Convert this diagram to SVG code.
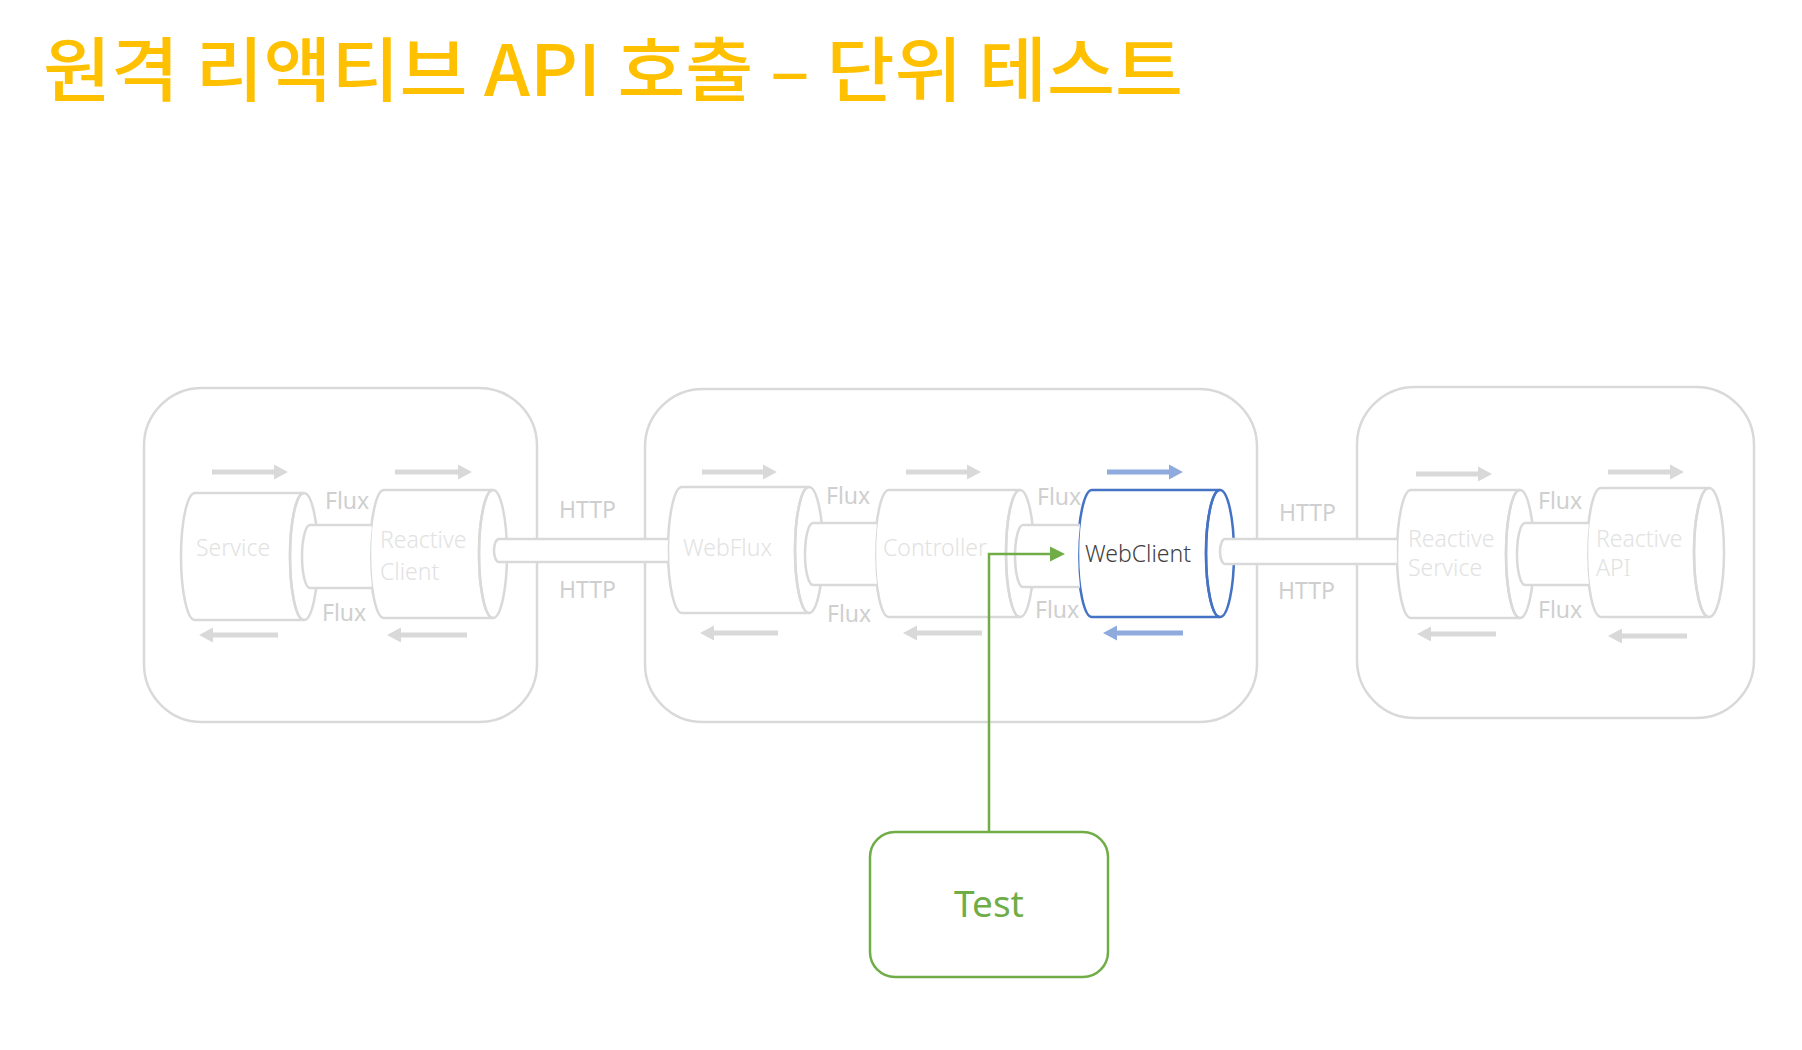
<svg xmlns="http://www.w3.org/2000/svg" width="1802" height="1050" viewBox="0 0 1802 1050">
<style>
  .title{font-family:"Noto Sans CJK KR","Noto Sans",sans-serif;font-weight:500;font-size:70px;fill:#FFC000}
  .box{fill:none;stroke:#D9D9D9;stroke-width:2.5}
  .cylb{fill:#FFFFFF;stroke:#D9D9D9;stroke-width:2.5}
  .cyle{fill:none;stroke:#D9D9D9;stroke-width:2.5}
  .cylb.hl{stroke:#4472C4}
  .cyle.hl{stroke:#4472C4}
  .ntext{font-family:"Noto Sans","Open Sans",sans-serif;font-weight:300;font-size:23px;fill:#E2E2E2}
  .ntext.hl{fill:#404040}
  .lbl{font-family:"Noto Sans","Open Sans",sans-serif;font-size:23px;fill:#CFCFCF}
  .arr{fill:#D9D9D9}
  .arr.hl{fill:#8FAADC}
  .tubef{fill:#FFFFFF;stroke:none}
  .tubes{fill:none;stroke:#D9D9D9;stroke-width:2.5}
  .test{fill:#FFFFFF;stroke:#70AD47;stroke-width:2.5}
  .testtext{font-family:"Noto Sans","Open Sans",sans-serif;font-size:37px;fill:#70AD47;text-anchor:middle}
  .green{fill:none;stroke:#70AD47;stroke-width:2.5}
</style>
<rect x="0" y="0" width="1802" height="1050" fill="#FFFFFF"/>
<text class="title" x="43" y="96" textLength="1140" lengthAdjust="spacingAndGlyphs">원격 리액티브 API 호출 – 단위 테스트</text>

<g id="containers">
  <rect id="container-client" class="box" x="144" y="388" width="393" height="334" rx="58"/>
  <rect id="container-middle" class="box" x="645" y="389" width="612" height="333" rx="58"/>
  <rect id="container-remote" class="box" x="1357" y="387" width="397" height="331" rx="58"/>
</g>

<g id="node-service">
  <path class="cylb" d="M195,493 L304,493 A14 63.5 0 0 0 304,620 L195,620 A14 63.5 0 0 1 195,493 Z"/>
  <ellipse class="cyle" cx="304" cy="556.5" rx="14" ry="63.5"/>
  <text class="ntext" x="196" y="556">Service</text>
  <path class="arr" d="M212,469.5 L274,469.5 L274,464.5 L288,472 L274,479.5 L274,474.5 L212,474.5 Z"/>
  <path class="arr" d="M278,632.5 L213,632.5 L213,627.5 L199,635 L213,642.5 L213,637.5 L278,637.5 Z"/>
</g>

<g id="node-reactive-client">
  <path class="cylb" d="M384,490 L493,490 A14 64 0 0 0 493,618 L384,618 A14 64 0 0 1 384,490 Z"/>
  <ellipse class="cyle" cx="493" cy="554" rx="14" ry="64"/>
  <text class="ntext" x="380" y="548">Reactive</text>
  <text class="ntext" x="380" y="580">Client</text>
  <path class="arr" d="M395,469.5 L458,469.5 L458,464.5 L472,472 L458,479.5 L458,474.5 L395,474.5 Z"/>
  <path class="arr" d="M467,632.5 L401,632.5 L401,627.5 L387,635 L401,642.5 L401,637.5 L467,637.5 Z"/>
</g>

<g id="node-webflux">
  <path class="cylb" d="M682,487 L809,487 A14 63 0 0 0 809,613 L682,613 A14 63 0 0 1 682,487 Z"/>
  <ellipse class="cyle" cx="809" cy="550" rx="14" ry="63"/>
  <text class="ntext" x="683" y="556">WebFlux</text>
  <path class="arr" d="M702,469.5 L763,469.5 L763,464.5 L777,472 L763,479.5 L763,474.5 L702,474.5 Z"/>
  <path class="arr" d="M778,630.5 L714,630.5 L714,625.5 L700,633 L714,640.5 L714,635.5 L778,635.5 Z"/>
</g>

<g id="node-controller">
  <path class="cylb" d="M889,490 L1020,490 A14 63.5 0 0 0 1020,617 L889,617 A14 63.5 0 0 1 889,490 Z"/>
  <ellipse class="cyle" cx="1020" cy="553.5" rx="14" ry="63.5"/>
  <text class="ntext" x="883" y="556">Controller</text>
  <path class="arr" d="M906,469.5 L967,469.5 L967,464.5 L981,472 L967,479.5 L967,474.5 L906,474.5 Z"/>
  <path class="arr" d="M982,630.5 L917,630.5 L917,625.5 L903,633 L917,640.5 L917,635.5 L982,635.5 Z"/>
</g>

<g id="node-webclient">
  <path class="cylb hl" d="M1092,490 L1220,490 A14 63.5 0 0 0 1220,617 L1092,617 A14 63.5 0 0 1 1092,490 Z"/>
  <ellipse class="cyle hl" cx="1220" cy="553.5" rx="14" ry="63.5"/>
  <text class="ntext hl" x="1085" y="562">WebClient</text>
  <path class="arr hl" d="M1107,469.5 L1169,469.5 L1169,464.5 L1183,472 L1169,479.5 L1169,474.5 L1107,474.5 Z"/>
  <path class="arr hl" d="M1183,630.5 L1117,630.5 L1117,625.5 L1103,633 L1117,640.5 L1117,635.5 L1183,635.5 Z"/>
</g>

<g id="node-reactive-service">
  <path class="cylb" d="M1411,490 L1520,490 A14 64 0 0 0 1520,618 L1411,618 A14 64 0 0 1 1411,490 Z"/>
  <ellipse class="cyle" cx="1520" cy="554" rx="14" ry="64"/>
  <text class="ntext" x="1408" y="547">Reactive</text>
  <text class="ntext" x="1408" y="576">Service</text>
  <path class="arr" d="M1416,471.5 L1478,471.5 L1478,466.5 L1492,474 L1478,481.5 L1478,476.5 L1416,476.5 Z"/>
  <path class="arr" d="M1496,631.5 L1431,631.5 L1431,626.5 L1417,634 L1431,641.5 L1431,636.5 L1496,636.5 Z"/>
</g>

<g id="node-reactive-api">
  <path class="cylb" d="M1601,488 L1709,488 A15 64.5 0 0 0 1709,617 L1601,617 A14 64.5 0 0 1 1601,488 Z"/>
  <ellipse class="cyle" cx="1709" cy="552.5" rx="15" ry="64.5"/>
  <text class="ntext" x="1596" y="547">Reactive</text>
  <text class="ntext" x="1596" y="576">API</text>
  <path class="arr" d="M1608,469.5 L1670,469.5 L1670,464.5 L1684,472 L1670,479.5 L1670,474.5 L1608,474.5 Z"/>
  <path class="arr" d="M1687,633.5 L1622,633.5 L1622,628.5 L1608,636 L1622,643.5 L1622,638.5 L1687,638.5 Z"/>
</g>

<g id="node-test">
  <rect class="test" x="870" y="832" width="238" height="145" rx="25"/>
  <text class="testtext" x="989" y="917">Test</text>
</g>

<g id="connectors">
  <!-- Service -> Reactive Client (Flux) -->
  <path class="tubef" d="M310,525 L372,525 A14 64 0 0 0 372,588 L310,588 A8 31.5 0 0 1 310,525 Z"/>
  <path class="tubes" d="M372,525 L310,525 A8 31.5 0 0 0 310,588 L372,588"/>
  <!-- Reactive Client -> WebFlux (HTTP) -->
  <path class="tubef" d="M499,539 L668,539 A14 63 0 0 0 668,562 L499,562 A5 11.5 0 0 1 499,539 Z"/>
  <path class="tubes" d="M668,539 L499,539 A5 11.5 0 0 0 499,562 L668,562"/>
  <!-- WebFlux -> Controller (Flux) -->
  <path class="tubef" d="M813,523 L877,523 A14 64 0 0 0 877,585 L813,585 A8 31 0 0 1 813,523 Z"/>
  <path class="tubes" d="M877,523 L813,523 A8 31 0 0 0 813,585 L877,585"/>
  <!-- Controller -> WebClient (Flux) -->
  <path class="tubef" d="M1023,525 L1080,525 A14 64 0 0 0 1080,587 L1023,587 A8 31 0 0 1 1023,525 Z"/>
  <path class="tubes" d="M1080,525 L1023,525 A8 31 0 0 0 1023,587 L1080,587"/>
  <!-- WebClient -> Reactive Service (HTTP) -->
  <path class="tubef" d="M1225,539 L1397,539 A14 64 0 0 0 1397,564 L1225,564 A5 12.5 0 0 1 1225,539 Z"/>
  <path class="tubes" d="M1397,539 L1225,539 A5 12.5 0 0 0 1225,564 L1397,564"/>
  <!-- Reactive Service -> Reactive API (Flux) -->
  <path class="tubef" d="M1525,523 L1589,523 A14 64 0 0 0 1589,585 L1525,585 A8 31 0 0 1 1525,523 Z"/>
  <path class="tubes" d="M1589,523 L1525,523 A8 31 0 0 0 1525,585 L1589,585"/>

  <text class="lbl" x="325" y="509">Flux</text>
  <text class="lbl" x="322" y="621">Flux</text>
  <text class="lbl" x="559" y="518">HTTP</text>
  <text class="lbl" x="559" y="598">HTTP</text>
  <text class="lbl" x="826" y="504">Flux</text>
  <text class="lbl" x="827" y="622">Flux</text>
  <text class="lbl" x="1037" y="505">Flux</text>
  <text class="lbl" x="1035" y="618">Flux</text>
  <text class="lbl" x="1279" y="521">HTTP</text>
  <text class="lbl" x="1278" y="599">HTTP</text>
  <text class="lbl" x="1538" y="509">Flux</text>
  <text class="lbl" x="1538" y="618">Flux</text>

  <!-- Test -> WebClient -->
  <path class="green" d="M989,832 V554 H1052"/>
  <polygon points="1050,546.5 1065,554 1050,561.5" fill="#70AD47"/>
</g>
</svg>
